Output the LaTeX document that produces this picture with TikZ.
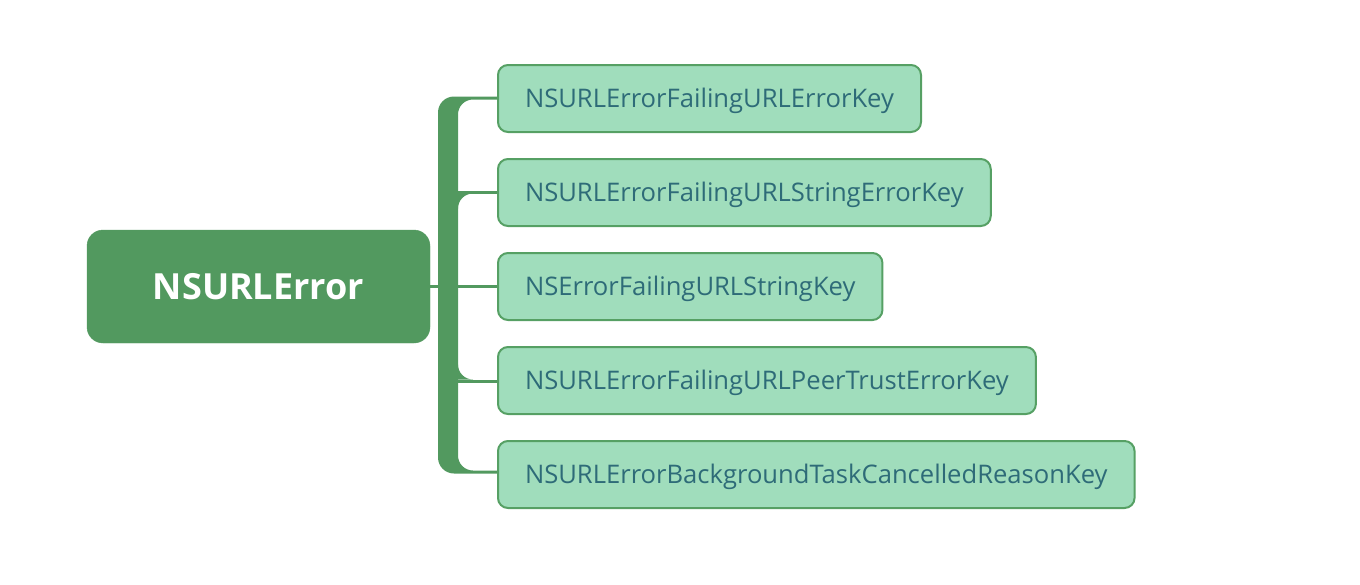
\documentclass[tikz,border=0pt]{standalone}
\usepackage{fontspec}
\setmainfont{Open Sans}
\usepackage{tikz}

\definecolor{rootgreen}{HTML}{52995F}
\definecolor{keyfill}{HTML}{A0DDBC}
\definecolor{keyline}{HTML}{56A064}
\definecolor{keytext}{HTML}{2E6B78}

\tikzset{
  rootbox/.style={fill=rootgreen, draw=rootgreen, rounded corners=16pt,
    minimum width=343pt, minimum height=113pt, text=white,
    font=\fontsize{36}{44}\selectfont\bfseries},
  keybox/.style={fill=keyfill, draw=keyline, line width=2pt, rounded corners=10pt,
    anchor=west, minimum height=67pt, inner xsep=27pt, text=keytext,
    text height=18.3pt, text depth=0pt,
    font=\fontsize{25.6}{30}\selectfont},
  branch/.style={draw=rootgreen, line width=3pt}
}

\begin{document}
\begin{tikzpicture}[x=1pt,y=-1pt]
      \useasboundingbox (0,0) rectangle (1360,584);

      % 括弧
      \fill[rootgreen] (505,96.5) -- (454,96.5) arc[start angle=-90, end angle=-180, radius=16]
        -- (438,457.5) arc[start angle=180, end angle=90, radius=16]
        -- (505,473.5) -- (505,470.5) -- (473,470.5) arc[start angle=90, end angle=180, radius=15]
        -- (458,114.5) arc[start angle=180, end angle=270, radius=15]
        -- (505,99.5) -- cycle;
      \fill[rootgreen] (458,193.5) -- (473,193.5) arc[start angle=270, end angle=180, radius=15] -- cycle;
      \fill[rootgreen] (458,379.5) -- (473,379.5) arc[start angle=90, end angle=180, radius=15] -- cycle;
      \coordinate (bar) at (458,286.5);

      % 中心ノード
      \node[rootbox] (root) at (258.5,286.5) {NSURLError};

      % 子ノード
      \node[keybox] (k1) at (497,98.5) {NSURLErrorFailingURLErrorKey};
      \node[keybox] (k2) at (497,192.5) {NSURLErrorFailingURLStringErrorKey};
      \node[keybox] (k3) at (497,286.5) {NSErrorFailingURLStringKey};
      \node[keybox] (k4) at (497,380.5) {NSURLErrorFailingURLPeerTrustErrorKey};
      \node[keybox] (k5) at (497,474.5) {NSURLErrorBackgroundTaskCancelledReasonKey};

      % 線
      \draw[branch] (root.east) -- (k3.west);
      \draw[branch] (bar |- 0,192) -- (k2.west |- 0,192);
      \draw[branch] (bar |- 0,381) -- (k4.west |- 0,381);
    \end{tikzpicture}
\end{document}
